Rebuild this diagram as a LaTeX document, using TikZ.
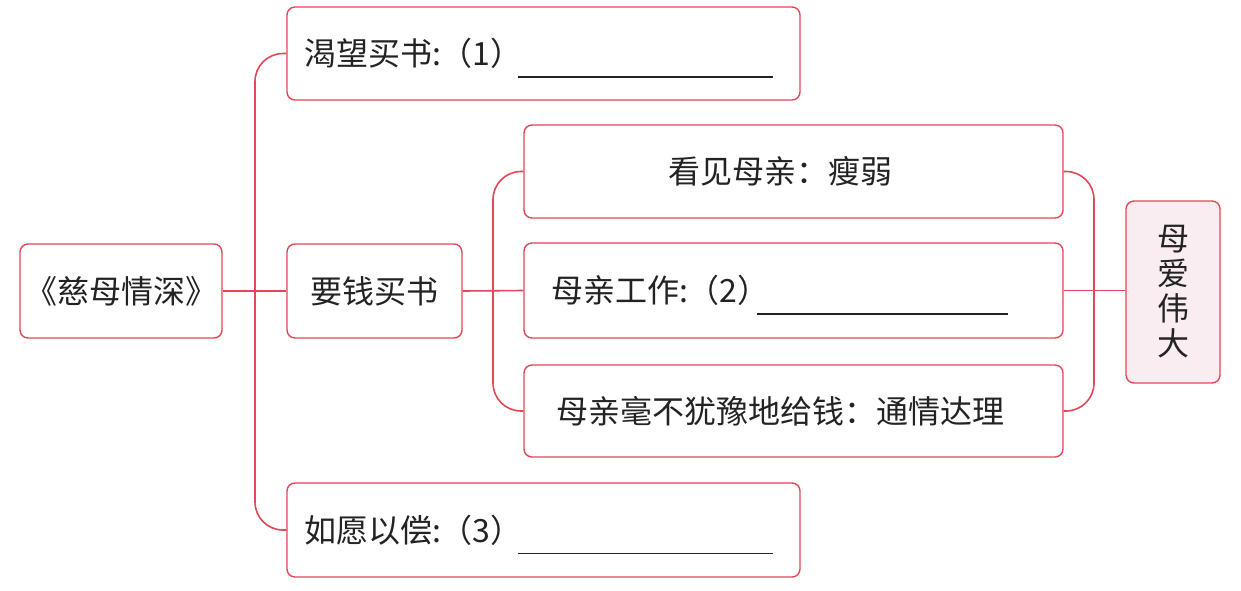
\documentclass[tikz,border=0pt]{standalone}
\usepackage{fontspec}
\setmainfont{Noto Sans CJK SC}
\usetikzlibrary{calc}
\definecolor{lred}{RGB}{226,72,88}
\definecolor{lpink}{RGB}{250,237,241}
\definecolor{ink}{RGB}{35,35,35}
\newcommand{\blankline}[1]{\smash{\llap{\rule[-12pt]{#1}{1.2pt}}}}
\begin{document}
\begin{tikzpicture}[x=1pt,y=-1pt,
  box/.style={draw=lred, line width=1.4pt, rounded corners=8pt, inner sep=0pt,
    font=\fontsize{32}{36}\selectfont, text=ink, anchor=center},
  conn/.style={draw=lred, line width=1.6pt, rounded corners=28pt}]
\useasboundingbox (0,0) rectangle (1241,590);
\fill[white] (0,0) rectangle (1241,590);
\node[box, minimum width=202pt, minimum height=94pt] (root) at (121,291) {《慈母情深》};
\node[box, minimum width=513pt, minimum height=93pt, text width=479pt, align=left] (b1) at (543.5,53.5)
  {渴望买书:（1）\hfill\blankline{255pt}\hspace*{10pt}};
\node[box, minimum width=175pt, minimum height=94pt] (b2) at (374.5,291) {要钱买书};
\node[box, minimum width=513pt, minimum height=94pt, text width=479pt, align=left] (b3) at (543.5,530)
  {如愿以偿:（3）\hfill\blankline{255pt}\hspace*{10pt}};
\node[box, minimum width=539pt, minimum height=93pt, text width=511pt, align=center] (s1) at (793.5,171.5)
  {看见母亲：瘦弱\hspace*{26pt}};
\node[box, minimum width=539pt, minimum height=95pt, text width=485pt, align=left] (s2) at (793.5,290.5)
  {母亲工作:（2）\hfill\blankline{251pt}\hspace*{28pt}};
\node[box, minimum width=539pt, minimum height=92pt, text width=511pt, align=center] (s3) at (793.5,411)
  {母亲毫不犹豫地给钱：通情达理\hspace*{26pt}};
\node[box, fill=lpink, minimum width=94pt, minimum height=182pt, align=center,
  font=\fontsize{32}{35}\selectfont] (r) at (1173,292)
  {母\\爱\\伟\\大};
\coordinate (sp1) at (255,291);
\coordinate (sp2) at (493,291);
\coordinate (sp3) at (1094,291);
\draw[conn] (b1.west) -| (sp1) |- (b3.west);
\draw[conn] (root.east) -- (b2.west);
\draw[conn] (s1.west) -| (sp2) |- (s3.west);
\draw[conn] (b2.east) -- (s2.west);
\draw[conn] (s1.east) -| (sp3) |- (s3.east);
\draw[conn] (s2.east) -- (r.west |- s2.east);
\end{tikzpicture}
\end{document}
